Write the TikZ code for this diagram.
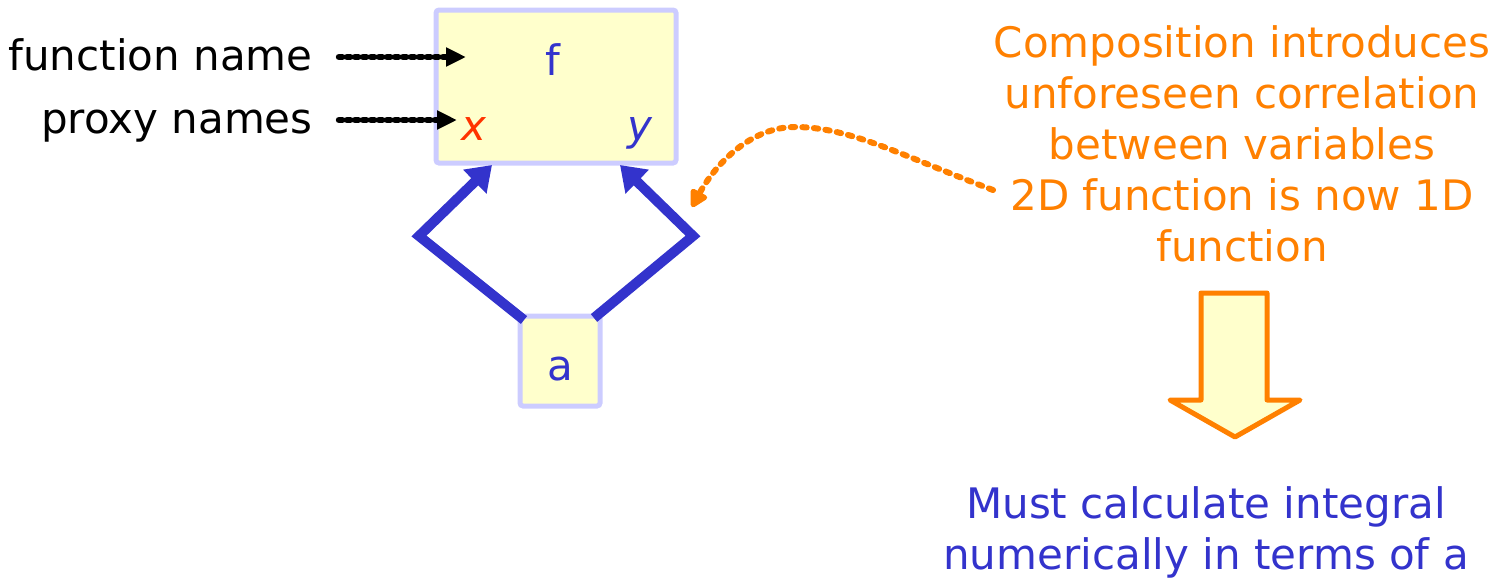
\documentclass[tikz,border=0pt]{standalone}
\usepackage{fontspec}
\setmainfont{DejaVu Sans}
\usetikzlibrary{arrows.meta}
\definecolor{boxfill}{HTML}{FFFFCC}
\definecolor{boxline}{HTML}{CCCCFF}
\definecolor{dblue}{HTML}{3333CC}
\definecolor{dred}{HTML}{FF3300}
\definecolor{dorange}{HTML}{FF8000}
\tikzset{
  txt/.style={font=\fontsize{21}{25.5}\selectfont, inner sep=0pt, anchor=base},
  fbox/.style={draw=boxline, fill=boxfill, line width=2.5pt, rounded corners=1.5pt},
  pointer/.style={draw=black, line width=3.2pt, dash pattern=on 1.6pt off 2.4pt, line cap=round,
     -{Triangle[length=10pt,width=9pt]}},
  flow/.style={draw=dblue, line width=5pt, line join=miter,
     -{Triangle[length=12pt,width=16pt]}},
  note/.style={draw=dorange, line width=3pt, dash pattern=on 2.2pt off 3.6pt, line cap=round,
     -{Triangle[length=10pt,width=10pt,round]}},
}
\begin{document}
\begin{tikzpicture}[x=0.5pt,y=-0.5pt]
\useasboundingbox (0,0) rectangle (1498,580);
% boxes
\path[fbox] (436,10) rectangle (676,163);
\path[fbox] (520,316) rectangle (600,406);
\node[txt, text=dblue] (f) at (553,75) {f};
\node[txt, text=dred, font=\fontsize{21}{25.5}\selectfont\itshape] (x) at (474,140) {x};
\node[txt, text=dblue, font=\fontsize{21}{25.5}\selectfont\itshape] (y) at (640,140) {y};
\node[txt, text=dblue] (a) at (560,380) {a};
% labels
\node[txt, anchor=base east] (fn) at (313,70) {function name};
\node[txt, anchor=base east] (pn) at (313,133) {proxy names};
\coordinate (fnend) at (466,57);
\coordinate (pnend) at (457,120);
\draw[pointer] ([xshift=13pt]fn.east |- fnend) -- (fnend);
\draw[pointer] ([xshift=13pt]pn.east |- pnend) -- (pnend);
% blue arrows
\coordinate (aL) at (524,320);
\coordinate (aR) at (594,318);
\coordinate (xin) at (492,165);
\coordinate (yin) at (620,165);
\draw[flow] (aL) -- (419,236) -- (xin);
\draw[flow] (aR) -- (693,236) -- (yin);
% orange text
\node[txt, text=dorange, align=center] (comp) at (1242,261)
  {Composition introduces\\unforeseen correlation\\between variables\\2D function is now 1D\\function};
\coordinate (cstart) at (993,190);
\coordinate (cpeak) at (795,127);
\coordinate (ctip) at (692,207);
\draw[note] (cstart) .. controls (900,155) and (850,127) .. (cpeak)
  .. controls (750,127) and (715,165) .. (ctip);
% block arrow
\path[draw=dorange, fill=boxfill, line width=2.5pt, line join=round]
  (1201,293) -- (1267,293) -- (1267,400) -- (1300,400) -- (1235,437) -- (1170,400) -- (1201,400) -- cycle;
\node[txt, text=dblue, align=center] (must) at (1206,569)
  {Must calculate integral\\numerically in terms of a};
\end{tikzpicture}
\end{document}
